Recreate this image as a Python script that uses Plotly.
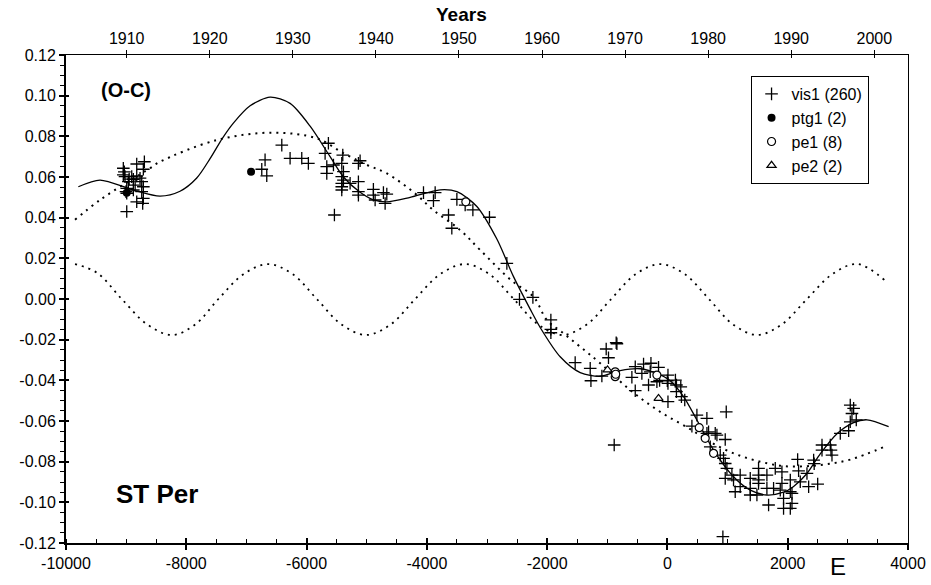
import plotly.graph_objects as go

# ---------------- data ----------------
vis1_E = [-9047, -8824, -8697, -8714, -9047, -9019, -8907, -8880, -8824, -8769, -8741, -8963, -8990, -9002,
          -8990, -8880, -8714, -8741, -8714, -8824, -8725, -8990, -9030, -8950, -8850,
          -6690, -6745, -6662, -6412, -6274, -6080, -5970,
          -5637, -5692, -5398, -5415, -5664, -5664, -5553, -5110, -5138, -5387, -5415, -5387, -5415, -5415,
          -5415, -5276, -5138, -5138, -5138, -4889, -4889, -4860, -4722, -4666, -4694, -5537, -4056, -3862,
          -3890, -3501, -3363, -3235, -2959, -3640, -3585, -2670,
          -2460, -2237, -1938, -1938, -1938,
          -1534, -1284, -1272, -1090, -1018, -980, -852, -885, -535, -591, -535, -397, -274, -425, -286, -148,
          -314, -175, 9, -2, 9, 133, 150, 222, 150, 233, 288, 9, 490, 656, 407, 684, 823, 712, -840, -130,
          978, 795, 657, 961, 878, 933, 961, 989, 961, 1072, 1099, 1210, 1127, 1210, 1377, 1377, 1377, 1515,
          1515, 1515, 1515, 1488, 1654, 1654, 1682, 1765, 1793, 1904, 1904, 1876, 1931, 1931, 2043, 2043, 2071,
          2071, 2043, 2165, 2181, 2209, 2320, 2348, 2431, 2440, 2498, 2570, 2570, 2708, 2719, 2736, 2874, 3013,
          3040, 3096, 3068, 3140, 3040, 922]
vis1_OC = [0.0643, 0.0664, 0.0675, 0.0638, 0.0610, 0.0602, 0.0602, 0.0589, 0.0605, 0.0594, 0.0577, 0.0577, 0.0544, 0.0528,
           0.0520, 0.0536, 0.0552, 0.0528, 0.0495, 0.0478, 0.0470, 0.0430, 0.0625, 0.0590, 0.0560,
           0.0684, 0.0638, 0.0606, 0.0757, 0.0692, 0.0692, 0.0667,
           0.0766, 0.0716, 0.0708, 0.0667, 0.0651, 0.0618, 0.0659, 0.0680, 0.0667, 0.0626, 0.0602, 0.0585, 0.0569, 0.0552,
           0.0536, 0.0569, 0.0577, 0.0528, 0.0511, 0.0539, 0.0511, 0.0487, 0.0523, 0.0516, 0.0470, 0.0413, 0.0523, 0.0523,
           0.0484, 0.0490, 0.0462, 0.0438, 0.0402, 0.0413, 0.0348, 0.0175,
           -0.0002, 0.0008, -0.0103, -0.0149, -0.0166,
           -0.0313, -0.0341, -0.0402, -0.0379, -0.0246, -0.0289, -0.0215, -0.0718, -0.0451, -0.0385, -0.0333, -0.0320, -0.0316, -0.0366, -0.0358, -0.0336,
           -0.0423, -0.0407, -0.0374, -0.0402, -0.0415, -0.0399, -0.0423, -0.0432, -0.0456, -0.0480, -0.0497, -0.0505, -0.0571, -0.0587, -0.0625, -0.0653, -0.0669, -0.0727, -0.0220, -0.0400,
           -0.0555, -0.0661, -0.0661, -0.0691, -0.0768, -0.0784, -0.0809, -0.0833, -0.0882, -0.0866, -0.0890, -0.0866, -0.0948, -0.0923, -0.0882, -0.0931, -0.0964, -0.0833,
           -0.0866, -0.0890, -0.0907, -0.0964, -0.0866, -0.0931, -0.1013, -0.0931, -0.0833, -0.0850, -0.0907, -0.0940, -0.0981, -0.1030, -0.0890, -0.0948, -0.0956,
           -0.1005, -0.1030, -0.0789, -0.0845, -0.0899, -0.0858, -0.0923, -0.0792, -0.0810, -0.0910, -0.0718, -0.0743, -0.0718, -0.0743, -0.0768, -0.0661, -0.0648,
           -0.0522, -0.0538, -0.0563, -0.0595, -0.0604, -0.1169]

ptg1_E = [-6923, -8990]
ptg1_OC = [0.0626, 0.0523]

pe1_E = [-3352, -868, -868, -175, 529, 628, 767, -860]
pe1_OC = [0.0478, -0.0358, -0.0382, -0.0374, -0.0633, -0.0685, -0.0759, -0.0370]

pe2_E = [-996, -148]
pe2_OC = [-0.0349, -0.0489]

# full fit (solid)
fit_E = [-9795, -9434, -8880, -8436, -8104, -7826, -7605, -7400, -7217, -6939, -6607, -6274, -5941, -5609,
         -5387, -5110, -4889, -4666, -4278, -3779, -3501, -3169, -2836, -2559, -2282, -2116, -1783, -1450,
         -1118, -785, -452, -175, 46, 268, 490, 767, 1099, 1377, 1654, 1931, 2093, 2320, 2541, 2819, 3096,
         3318, 3678]
fit_OC = [0.0552, 0.0585, 0.0536, 0.0506, 0.0530, 0.0595, 0.0690, 0.0790, 0.0865, 0.0950, 0.0993, 0.0962, 0.0850, 0.0700,
          0.0600, 0.0525, 0.0488, 0.0478, 0.0500, 0.0537, 0.0528, 0.0455, 0.0295, 0.0110, -0.0050, -0.0140, -0.0284, -0.0362,
          -0.0380, -0.0352, -0.0343, -0.0366, -0.0402, -0.0480, -0.0595, -0.0743, -0.0874, -0.0940, -0.0964, -0.0950, -0.0923, -0.0858, -0.0762, -0.0663, -0.0608,
          -0.0594, -0.0628]

# long-term trend (dotted)
trend_E = [-9850, -9420, -8600, -8436, -7490, -6560, -5830, -5393, -5000, -4666, -4200, -3895, -3446, -3114,
           -2590, -2227, -2004, -1727, -1450, -1118, -619, -120, 379, 767, 1154, 1544, 1932, 2320, 2653, 3040, 3623]
trend_OC = [0.0390, 0.0490, 0.0644, 0.0675, 0.0782, 0.0818, 0.0790, 0.0718, 0.0660, 0.0618, 0.0520, 0.0438, 0.0339, 0.0241,
            0.0090, 0.0011, -0.0103, -0.0169, -0.0235, -0.0316, -0.0448, -0.0555, -0.0640, -0.0712, -0.0765, -0.0800, -0.0822, -0.0822, -0.0812, -0.0790, -0.0725]

# periodic term (dotted)
wave_E = [-9850, -9480, -9074, -8650, -8237, -7850, -7466, -7050, -6640, -6230, -5830, -5420, -5010, -4600,
          -4195, -3780, -3363, -2960, -2555, -2150, -1750, -1340, -935, -530, -120, 290, 690, 1090, 1494, 1900,
          2320, 2740, 3157, 3623]
wave_OC = [0.0172, 0.0128, 0.0000, -0.0125, -0.0177, -0.0125, 0.0000, 0.0122, 0.0172, 0.0122, 0.0000, -0.0125, -0.0177, -0.0125,
           0.0000, 0.0122, 0.0172, 0.0122, 0.0000, -0.0125, -0.0177, -0.0125, 0.0000, 0.0122, 0.0172, 0.0122, 0.0000, -0.0125, -0.0177, -0.0125,
           0.0000, 0.0122, 0.0172, 0.0090]

x_ticks = [-10000, -8000, -6000, -4000, -2000, 0, 2000, 4000]
x_ticktext = ["-10000", "-8000", "-6000", "-4000", "-2000", "0", "2000", "4000"]
y_ticks = [-0.12, -0.10, -0.08, -0.06, -0.04, -0.02, 0.0, 0.02, 0.04, 0.06, 0.08, 0.10, 0.12]
y_ticktext = ["-0.12", "-0.10", "-0.08", "-0.06", "-0.04", "-0.02", "0.00", "0.02", "0.04", "0.06", "0.08", "0.10", "0.12"]
year_ticks = [1910, 1920, 1930, 1940, 1950, 1960, 1970, 1980, 1990, 2000]
year_ticktext = [str(y) for y in year_ticks]
year_range = [1902.69, 2004.06]

FONT = "Arial, Liberation Sans, sans-serif"

fig = go.Figure()
fig.add_trace(go.Scatter(x=wave_E, y=wave_OC, mode="lines", line=dict(color="black", width=1.8, dash="2px,5px", shape="spline", smoothing=1.0), showlegend=False, hoverinfo="skip"))
fig.add_trace(go.Scatter(x=trend_E, y=trend_OC, mode="lines", line=dict(color="black", width=2, dash="2px,5px", shape="spline", smoothing=1.0), showlegend=False, hoverinfo="skip"))
fig.add_trace(go.Scatter(x=fit_E, y=fit_OC, mode="lines", line=dict(color="black", width=1.3, shape="spline", smoothing=0.8), showlegend=False, hoverinfo="skip"))

fig.add_trace(go.Scatter(x=vis1_E, y=vis1_OC, mode="markers", name="vis1 (260)",
                         marker=dict(symbol="cross-thin", size=9, color="black", line=dict(color="black", width=1.3))))
fig.add_trace(go.Scatter(x=ptg1_E, y=ptg1_OC, mode="markers", name="ptg1 (2)",
                         marker=dict(symbol="circle", size=8, color="black")))
fig.add_trace(go.Scatter(x=pe1_E, y=pe1_OC, mode="markers", name="pe1 (8)",
                         marker=dict(symbol="circle", size=8, color="white", line=dict(color="black", width=1.2))))
fig.add_trace(go.Scatter(x=pe2_E, y=pe2_OC, mode="markers", name="pe2 (2)",
                         marker=dict(symbol="triangle-up", size=8, color="white", line=dict(color="black", width=1.2))))

# empty traces that only register the extra (overlay) axes so that they get drawn
for xa, ya in [("x2", "y"), ("x3", "y"), ("x4", "y"), ("x", "y2"), ("x", "y3")]:
    fig.add_trace(go.Scatter(x=[], y=[], xaxis=xa, yaxis=ya, mode="markers", showlegend=False, hoverinfo="skip"))

fig.update_layout(
    width=931, height=585,
    margin=dict(l=66, r=23, t=55, b=42, autoexpand=False),
    plot_bgcolor="white", paper_bgcolor="white",
    font=dict(family=FONT, size=16, color="black"),
    showlegend=True,
    legend=dict(x=0.813, y=0.957, xanchor="left", yanchor="top", bordercolor="black", borderwidth=1,
                bgcolor="white", font=dict(family=FONT, size=16, color="black"), itemwidth=30),
    xaxis=dict(range=[-10000, 4000], tickmode="array", tickvals=x_ticks, ticktext=x_ticktext,
               ticks="outside", ticklen=5, tickwidth=1.5, tickcolor="black",
               showline=True, linecolor="black", linewidth=2, showgrid=False, zeroline=False,
               minor=dict(tickmode="linear", tick0=0, dtick=500, ticks="inside", ticklen=4, tickwidth=1, tickcolor="black", showgrid=False),
               tickfont=dict(family=FONT, size=16)),
    xaxis3=dict(range=[-10000, 4000], overlaying="x", anchor="y", side="bottom", tickmode="array", tickvals=x_ticks,
                ticks="inside", ticklen=5, tickwidth=1.5, tickcolor="black", showticklabels=False,
                showline=False, showgrid=False, zeroline=False),
    xaxis2=dict(range=year_range, overlaying="x", anchor="y", side="top", tickmode="array", tickvals=year_ticks,
                ticktext=year_ticktext, ticks="outside", ticklen=4, tickwidth=1, tickcolor="black",
                showline=True, linecolor="black", linewidth=1.2, showgrid=False, zeroline=False,
                tickfont=dict(family=FONT, size=16)),
    xaxis4=dict(range=year_range, overlaying="x", anchor="y", side="top", tickmode="array", tickvals=year_ticks,
                ticks="inside", ticklen=3, tickwidth=1, tickcolor="black", showticklabels=False,
                showline=False, showgrid=False, zeroline=False),
    yaxis=dict(range=[-0.12, 0.12], tickmode="array", tickvals=y_ticks, ticktext=y_ticktext,
               ticks="outside", ticklen=5, tickwidth=1.5, tickcolor="black",
               showline=True, linecolor="black", linewidth=2, showgrid=False, zeroline=False,
               minor=dict(tickmode="linear", tick0=0, dtick=0.005, ticks="outside", ticklen=4, tickwidth=1, tickcolor="black", showgrid=False),
               tickfont=dict(family=FONT, size=16)),
    yaxis2=dict(range=[-0.12, 0.12], overlaying="y", anchor="x", side="left", tickmode="array", tickvals=y_ticks,
                ticks="inside", ticklen=3, tickwidth=1.5, tickcolor="black", showticklabels=False,
                showline=False, showgrid=False, zeroline=False),
    yaxis3=dict(range=[-0.12, 0.12], overlaying="y", anchor="x", side="right", showticklabels=False, ticks="",
                showline=True, linecolor="black", linewidth=1.2, showgrid=False, zeroline=False),
    annotations=[
        dict(text="<b>Years</b>", xref="paper", yref="paper", x=0.4703, y=1.082, xanchor="center", yanchor="middle",
             showarrow=False, font=dict(family=FONT, size=19, color="black")),
        dict(text="<b>(O-C)</b>", xref="paper", yref="paper", x=0.0713, y=0.928, xanchor="center", yanchor="middle",
             showarrow=False, font=dict(family=FONT, size=20, color="black")),
        dict(text="<b>ST Per</b>", xref="paper", yref="paper", x=0.108, y=0.1004, xanchor="center", yanchor="middle",
             showarrow=False, font=dict(family=FONT, size=26, color="black")),
        dict(text="E", xref="paper", yref="paper", x=0.9169, y=-0.049, xanchor="center", yanchor="middle",
             showarrow=False, font=dict(family=FONT, size=24, color="black")),
    ],
)

# remove the default 8px page margin so the figure fills the 931x585 window exactly
fig.write_html("out.html", config={"displayModeBar": False},
               post_script="document.body.style.margin='0';document.body.style.overflow='hidden';")
